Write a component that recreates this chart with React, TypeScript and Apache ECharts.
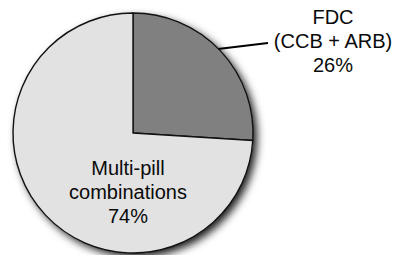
import React, { useEffect, useRef } from "react";
import * as echarts from "echarts";

const categories = ["FDC\n(CCB + ARB)", "Multi-pill\ncombinations"];
const values = [26, 74];
const colors = ["#808080", "#e2e2e2"];

export default function App() {
  const ref = useRef<HTMLDivElement>(null);
  useEffect(() => {
    if (!ref.current) return;
    const chart = echarts.init(ref.current, null, { renderer: "svg" });
    const data = categories.map((name, i) => ({
      name,
      value: values[i],
      itemStyle: { color: colors[i] },
      label: { position: i === 0 ? "outside" : "inside" },
      labelLine: { show: i === 0 },
    }));
    chart.setOption({
      animation: false,
      backgroundColor: "#ffffff",
      series: [
        {
          type: "pie",
          silent: true,
          center: [133, 133],
          radius: [0, 120],
          z: 1,
          label: { show: false },
          labelLine: { show: false },
          itemStyle: {
            color: "#e2e2e2",
            shadowBlur: 9,
            shadowOffsetX: 4,
            shadowOffsetY: 4,
            shadowColor: "rgba(0,0,0,0.9)",
          },
          data: [{ name: "shadow", value: values.reduce((a, b) => a + b, 0) }],
        },
        {
          type: "pie",
          z: 2,
          center: [133, 133],
          radius: [0, 120],
          startAngle: 90,
          clockwise: true,
          avoidLabelOverlap: false,
          itemStyle: { borderColor: "#111", borderWidth: 1.4 },
          emphasis: { disabled: true },
          label: {
            show: true,
            formatter: (p: any) => `${p.name}\n${p.value}%`,
            fontFamily: "Liberation Sans, Arial, sans-serif",
            fontSize: 20,
            lineHeight: 24,
            color: "#0a0a0a",
            align: "center",
          },
          labelLine: {
            show: true,
            lineStyle: { color: "#000", width: 2 },
          },
          labelLayout: (params: any) => {
            if (params.dataIndex === 0) {
              return {
                x: 333,
                y: 41,
                align: "center",
                verticalAlign: "middle",
                hideOverlap: false,
                labelLinePoints: [
                  [218, 49],
                  [268, 43],
                  [268, 43],
                ],
              };
            }
            return { x: 128, y: 192, align: "center", verticalAlign: "middle", hideOverlap: false };
          },
          data,
        },
      ],
    });
    return () => chart.dispose();
  }, []);
  return (
    <div
      ref={ref}
      style={{ position: "absolute", left: 0, top: 0, width: 394, height: 255 }}
    />
  );
}
